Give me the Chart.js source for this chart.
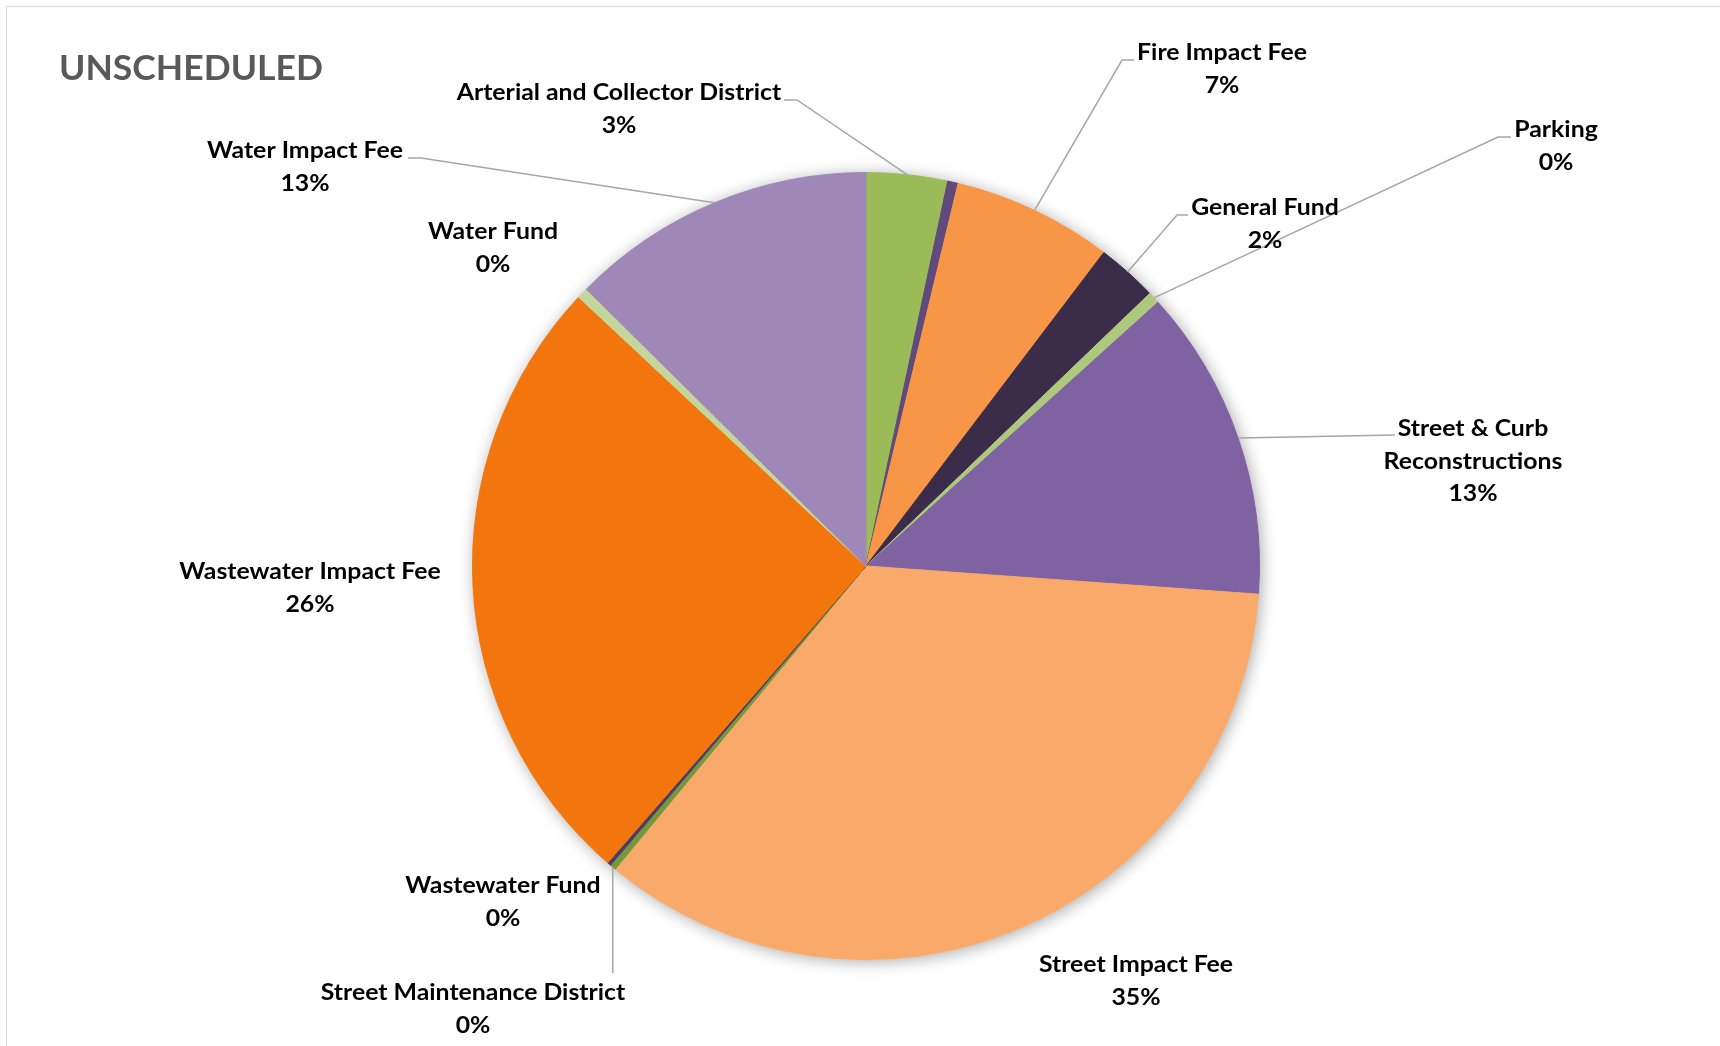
<!DOCTYPE html>
<html>
<head>
<meta charset="utf-8">
<script src="https://cdn.jsdelivr.net/npm/chart.js@4.4.1/dist/chart.umd.min.js"></script>
<style>
html, body { margin: 0; padding: 0; background: #fff; }
canvas { display: block; }
</style>
</head>
<body>
<canvas id="grafica" width="1720" height="1046"></canvas>
<script>
var titulo = 'UNSCHEDULED'
var categorias = [
    'Arterial and Collector District',
    '',
    'Fire Impact Fee',
    'General Fund',
    'Parking',
    ['Street & Curb', 'Reconstructions'],
    'Street Impact Fee',
    'Street Maintenance District',
    'Wastewater Fund',
    'Wastewater Impact Fee',
    'Water Fund',
    'Water Impact Fee'
]
var valores = [3.33, 0.43, 6.57, 2.49, 0.49, 12.83, 34.86, 0.25, 0.15, 25.57, 0.45, 12.58]
var colores = ['#9BBB59', '#604A7B', '#F79646', '#3B2D4A', '#AEC97D', '#7F62A1',
    '#F9AA6A', '#76983C', '#4F3C66', '#F2750D', '#C3D69B', '#9F88B7']

// donde va cada etiqueta (centro x, y de la primera linea) y su linea guia
var posiciones = [
    { x: 619, y: 92, codo: [797, 100], fin: [784, 100] },
    null,
    { x: 1222, y: 52, codo: [1122, 60], fin: [1134, 60] },
    { x: 1265, y: 207, codo: [1177, 215], fin: [1188, 215] },
    { x: 1556, y: 129, codo: [1498, 137], fin: [1511, 137] },
    { x: 1473, y: 428, codo: [1395, 435], fin: [1395, 435] },
    { x: 1136, y: 964 },
    { x: 473, y: 992, vertical: 973 },
    { x: 503, y: 885 },
    { x: 310, y: 571 },
    { x: 493, y: 231 },
    { x: 305, y: 150, codo: [421, 158], fin: [408, 158] }
]

var sombra = {
    id: 'sombra',
    beforeDatasetsDraw: function (chart) {
        var arco = chart.getDatasetMeta(0).data[0]
        var ctx = chart.ctx
        ctx.save()
        ctx.shadowColor = 'rgba(0,0,0,0.35)'
        ctx.shadowBlur = 16
        ctx.shadowOffsetX = 2
        ctx.shadowOffsetY = 2
        ctx.fillStyle = '#ffffff'
        ctx.beginPath()
        ctx.arc(arco.x, arco.y, arco.outerRadius, 0, Math.PI * 2)
        ctx.fill()
        ctx.restore()
    }
}

function escribir(ctx, txt, x, y, sx, alinear) {
    ctx.save()
    ctx.translate(x, y)
    ctx.scale(sx, 1)
    ctx.textAlign = alinear
    ctx.textBaseline = 'alphabetic'
    ctx.fillText(txt, 0, 0)
    ctx.restore()
}

var etiquetas = {
    id: 'etiquetas',
    afterDraw: function (chart) {
        var ctx = chart.ctx
        var meta = chart.getDatasetMeta(0)
        var total = valores.reduce(function (a, b) { return a + b }, 0)

        // marco
        ctx.save()
        ctx.strokeStyle = '#D9D9D9'
        ctx.lineWidth = 1
        ctx.beginPath()
        ctx.moveTo(6.5, 1046)
        ctx.lineTo(6.5, 6.5)
        ctx.lineTo(1720, 6.5)
        ctx.stroke()

        // titulo
        ctx.fillStyle = '#595959'
        ctx.font = 'bold 35px Lato'
        var sxT = 264 / ctx.measureText(titulo).width
        escribir(ctx, titulo, 59, 80, sxT, 'left')

        // lineas guia
        ctx.strokeStyle = '#A6A6A6'
        ctx.lineWidth = 1.5
        for (var i = 0; i < posiciones.length; i++) {
            var p = posiciones[i]
            if (!p || (!p.codo && !p.vertical)) continue
            var a = meta.data[i]
            var m = (a.startAngle + a.endAngle) / 2
            var px = a.x + Math.cos(m) * a.outerRadius
            var py = a.y + Math.sin(m) * a.outerRadius
            ctx.beginPath()
            ctx.moveTo(px, py)
            if (p.vertical) {
                ctx.lineTo(px, p.vertical)
            } else {
                ctx.lineTo(p.codo[0], p.codo[1])
                ctx.lineTo(p.fin[0], p.fin[1])
            }
            ctx.stroke()
        }

        // textos
        ctx.fillStyle = '#000000'
        ctx.font = 'bold 23px Lato'
        var sx = 196 / ctx.measureText('Water Impact Fee').width
        for (var j = 0; j < posiciones.length; j++) {
            var q = posiciones[j]
            if (!q) continue
            var lineas = [].concat(categorias[j])
            lineas.push(Math.round(valores[j] / total * 100) + '%')
            for (var k = 0; k < lineas.length; k++) {
                escribir(ctx, lineas[k], q.x, q.y + 8 + k * 32.5, sx, 'center')
            }
        }
        ctx.restore()
    }
}

const grafica = new Chart(document.getElementById('grafica'), {
    type: 'pie',
    data: {
        labels: categorias,
        datasets: [{
            data: valores,
            backgroundColor: colores,
            borderColor: colores,
            borderWidth: 1
        }]
    },
    options: {
        responsive: false,
        animation: false,
        layout: { padding: { top: 172, bottom: 86, left: 472, right: 460 } },
        plugins: {
            legend: { display: false },
            tooltip: { enabled: false }
        }
    },
    plugins: [sombra, etiquetas]
});
</script>
</body>
</html>
